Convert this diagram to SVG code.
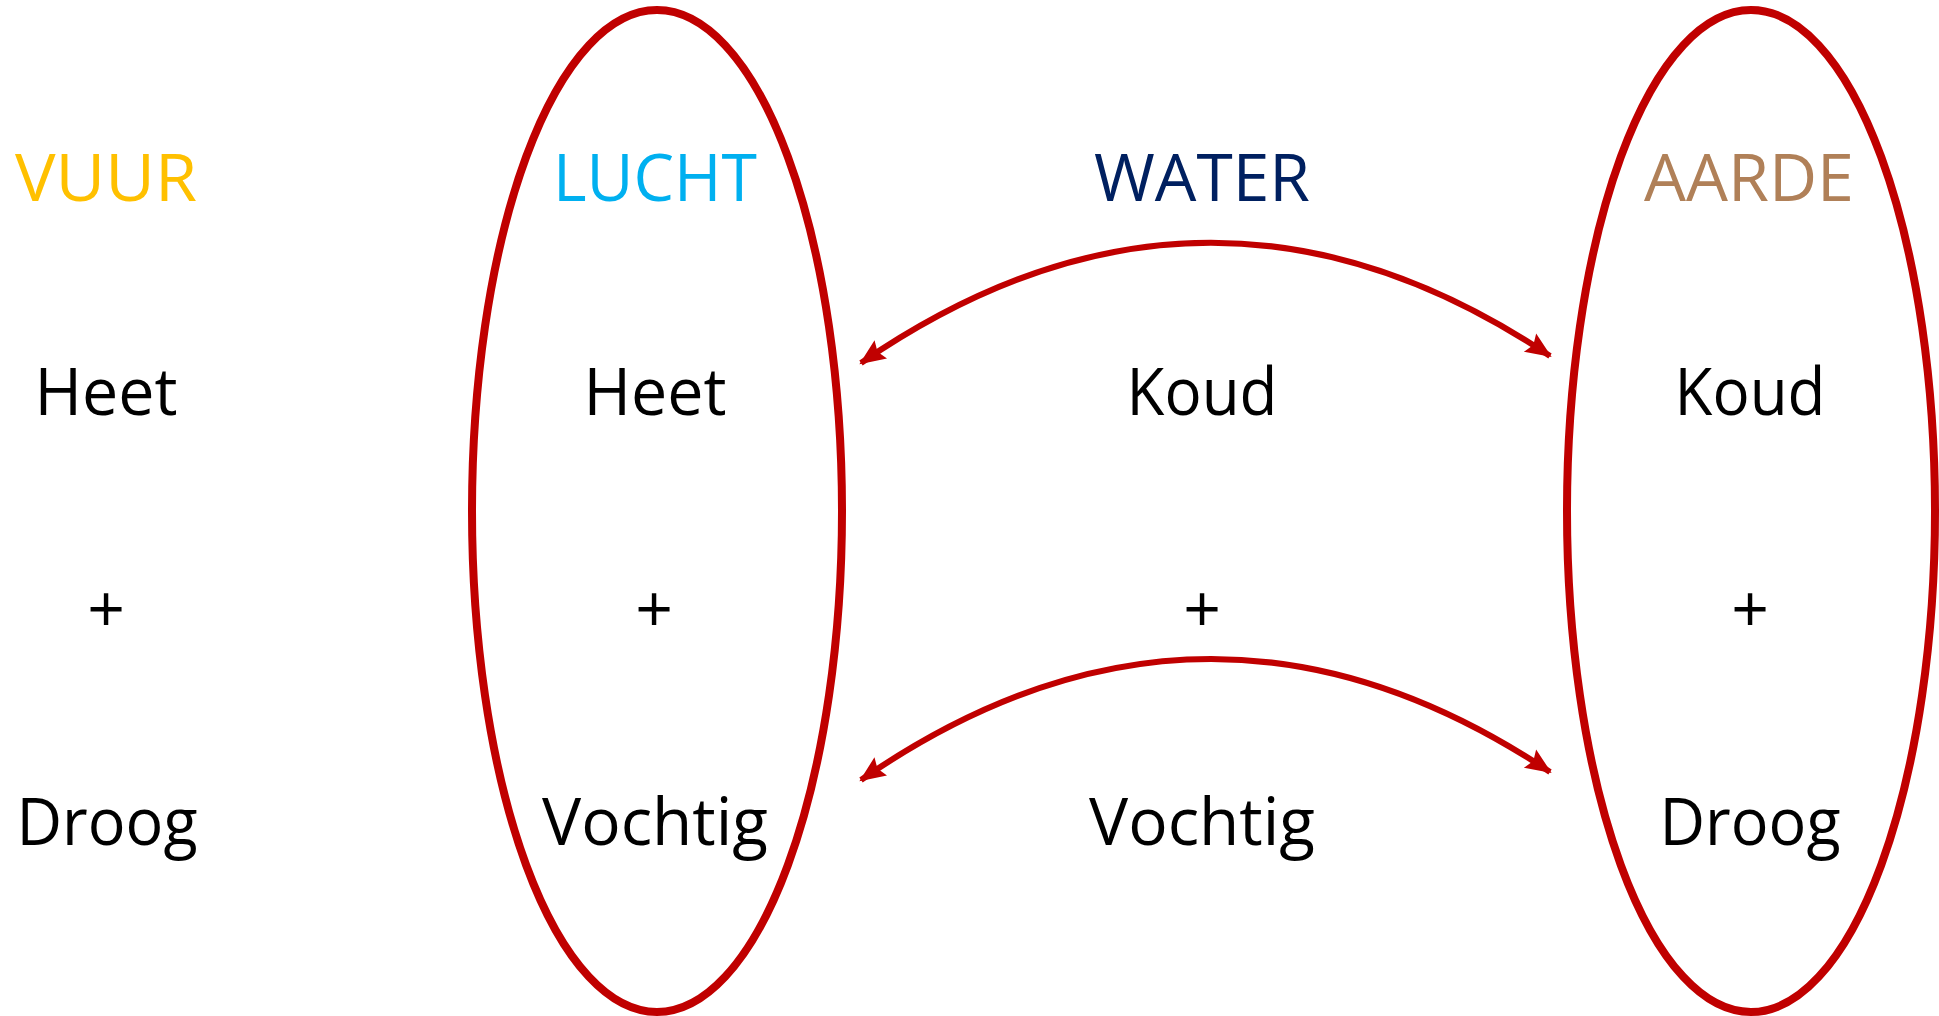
<svg xmlns="http://www.w3.org/2000/svg" width="1939" height="1016" viewBox="0 0 1939 1016">
<style>
  text { font-family: "Open Sans", "Liberation Sans", sans-serif; font-size: 66px; text-anchor: middle; fill: #000; }
  .ell { fill: none; stroke: #C00000; stroke-width: 8; }
  .arc { fill: none; stroke: #C00000; stroke-width: 6; }
</style>
<defs>
  <marker id="ah" markerUnits="userSpaceOnUse" markerWidth="28" markerHeight="24" refX="24" refY="11" orient="auto-start-reverse" viewBox="0 0 28 22" overflow="visible">
    <path d="M0,0 L26,11 L0,22 L4,11 z" fill="#C00000"/>
  </marker>
</defs>
<rect width="1939" height="1016" fill="#fff"/>
<g id="ellipse-lucht"><ellipse class="ell" cx="657" cy="511" rx="185" ry="501"/></g>
<g id="ellipse-aarde"><ellipse class="ell" cx="1751" cy="511" rx="184" ry="501"/></g>
<g id="vuur">
  <text x="106" y="201" style="fill:#FFC000" textLength="182" lengthAdjust="spacingAndGlyphs">VUUR</text>
  <text x="106" y="415" textLength="143" lengthAdjust="spacingAndGlyphs">Heet</text>
  <text x="106" y="632">+</text>
  <text x="107" y="845" textLength="181" lengthAdjust="spacingAndGlyphs">Droog</text>
</g>
<g id="lucht">
  <text x="655" y="201" style="fill:#00B0F0" textLength="204" lengthAdjust="spacingAndGlyphs">LUCHT</text>
  <text x="655" y="415" textLength="143" lengthAdjust="spacingAndGlyphs">Heet</text>
  <text x="654" y="632">+</text>
  <text x="655" y="845" textLength="226" lengthAdjust="spacingAndGlyphs">Vochtig</text>
</g>
<g id="water">
  <text x="1202" y="201" style="fill:#002060" textLength="216" lengthAdjust="spacingAndGlyphs">WATER</text>
  <text x="1202" y="415" textLength="151" lengthAdjust="spacingAndGlyphs">Koud</text>
  <text x="1202" y="632">+</text>
  <text x="1202" y="845" textLength="226" lengthAdjust="spacingAndGlyphs">Vochtig</text>
</g>
<g id="aarde">
  <text x="1749" y="201" style="fill:#B08058" textLength="210" lengthAdjust="spacingAndGlyphs">AARDE</text>
  <text x="1750" y="415" textLength="151" lengthAdjust="spacingAndGlyphs">Koud</text>
  <text x="1750" y="632">+</text>
  <text x="1750" y="845" textLength="181" lengthAdjust="spacingAndGlyphs">Droog</text>
</g>
<g id="connectors">
  <path class="arc" d="M861,363 Q1206,126 1550,356" marker-start="url(#ah)" marker-end="url(#ah)"/>
  <path class="arc" d="M861,780 Q1205,542 1550,772" marker-start="url(#ah)" marker-end="url(#ah)"/>
</g>
</svg>
